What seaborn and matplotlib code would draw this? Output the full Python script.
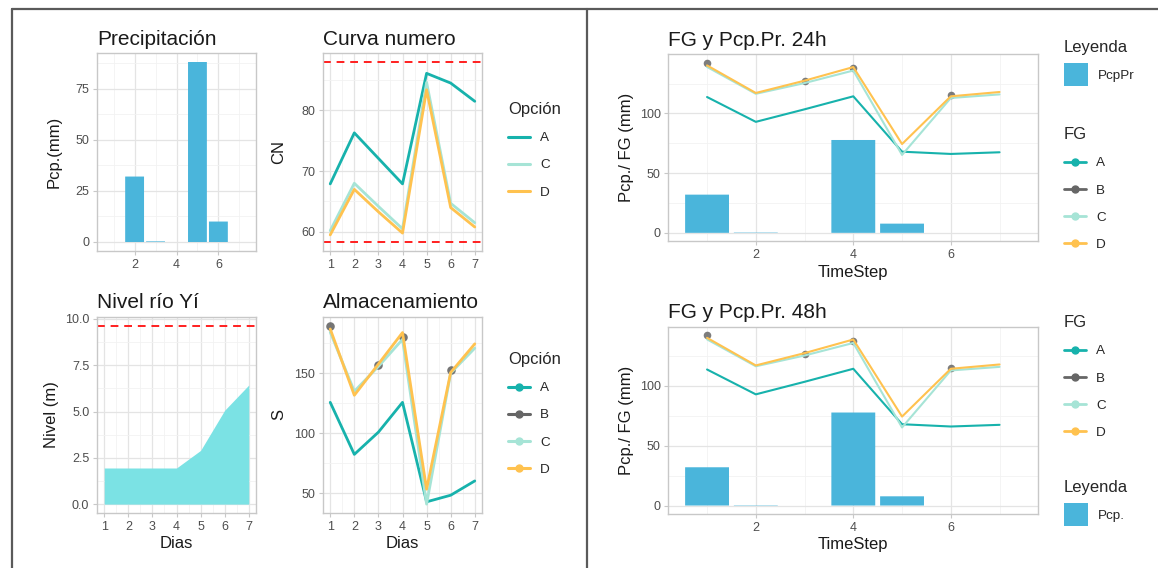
import numpy as np
import pandas as pd
import matplotlib
matplotlib.use("Agg")
import matplotlib.pyplot as plt
from matplotlib.lines import Line2D
from matplotlib.patches import Patch
from matplotlib.ticker import MultipleLocator, FormatStrFormatter
import seaborn as sns

# ---------------- data ----------------
dias = [1, 2, 3, 4, 5, 6, 7]
precip_mm = [0, 32, 0.3, 0, 88, 10, 0]

cn_A = [67.9, 76.3, 72.1, 67.9, 86.1, 84.5, 81.5]
cn_C = [60.2, 68.0, 64.2, 60.5, 84.6, 64.7, 61.5]
cn_D = [59.5, 67.0, 63.3, 59.8, 83.4, 64.0, 60.8]
cn_max = 88.0
cn_min = 58.3

nivel_m = [1.95, 1.95, 1.95, 1.95, 2.9, 5.07, 6.43]
nivel_alerta = 9.64

s_A = [125.6, 82.3, 100.8, 125.6, 42.8, 48.3, 60.2]
s_B = [189.5, np.nan, 156.3, 179.8, np.nan, 152.8, np.nan]
s_C = [184.0, 134.8, 155.5, 178.0, 40.9, 150.0, 170.7]
s_D = [186.7, 131.5, 157.5, 183.7, 53.3, 150.5, 174.3]

timestep = [1, 2, 3, 4, 5, 6, 7]
pcp_pr = [32, 0.3, 0, 77.8, 7.7, 0, 0]
fg_A = [113.8, 93.0, 103.5, 114.4, 68.0, 66.1, 67.5]
fg_B = [142.5, np.nan, 126.9, 138.0, np.nan, 115.3, np.nan]
fg_C = [139.0, 116.5, 125.5, 136.0, 65.3, 113.0, 116.0]
fg_D = [140.3, 117.2, 127.5, 138.9, 74.4, 114.4, 118.0]

opciones = ["A", "B", "C", "D"]
palette = {"A": "#17B2AC", "B": "#666666", "C": "#A6E4D6", "D": "#FFC24F"}
BAR = "#4AB5DB"
AREA = "#7BE2E4"
RED = "#FF1F1F"


def long_table(x, series, xname, yname):
    rows = []
    for name, vals in series.items():
        for xi, v in zip(x, vals):
            rows.append({xname: xi, yname: v, "Opcion": name})
    return pd.DataFrame(rows)


# ---------------- figure ----------------
sns.set_theme(style="white")
plt.rcParams["font.family"] = ["Liberation Sans", "DejaVu Sans"]

W, H = 1158, 568
fig = plt.figure(figsize=(W / 100, H / 100), dpi=100)
fig.patch.set_facecolor("white")


def px_axes(x0, y0, x1, y1):
    return fig.add_axes([x0 / W, 1 - y1 / H, (x1 - x0) / W, (y1 - y0) / H])


def style(ax, xmaj, ymaj, xlim, ylim, yfmt=None):
    ax.set_facecolor("white")
    for s in ax.spines.values():
        s.set_visible(True)
        s.set_color("#C8C8C8")
        s.set_linewidth(1.0)
    ax.set_xlim(*xlim)
    ax.set_ylim(*ylim)
    ax.xaxis.set_major_locator(MultipleLocator(xmaj))
    ax.xaxis.set_minor_locator(MultipleLocator(xmaj / 2))
    ax.yaxis.set_major_locator(MultipleLocator(ymaj))
    ax.yaxis.set_minor_locator(MultipleLocator(ymaj / 2))
    ax.xaxis.set_major_formatter(FormatStrFormatter("%d"))
    ax.yaxis.set_major_formatter(FormatStrFormatter(yfmt or "%d"))
    ax.grid(True, which="major", color="#E4E4E4", lw=0.9)
    ax.grid(True, which="minor", color="#F2F2F2", lw=0.6)
    ax.set_axisbelow(True)
    ax.tick_params(which="major", length=3, width=0.8, color="#C8C8C8",
                   labelsize=9, labelcolor="#4D4D4D", pad=2.5,
                   bottom=True, left=True)
    ax.tick_params(which="minor", length=0)
    ax.set_xlabel("")
    ax.set_ylabel("")


def set_title(ax, text):
    ax.set_title(text, loc="left", fontsize=15, pad=6, color="#1A1A1A")


def set_ylabel(ax, text, x):
    ax.set_ylabel(text, fontsize=12, color="#1A1A1A")
    ax.yaxis.set_label_coords(x, 0.5)


def set_xlabel(ax, text, y):
    ax.set_xlabel(text, fontsize=12, color="#1A1A1A")
    ax.xaxis.set_label_coords(0.5, y)


def add_legend(handles, labels, title, x, y, hl=1.63, hh=0.7, spacing=1.1):
    leg = fig.legend(handles, labels, title=title, loc="upper left",
                     bbox_to_anchor=(x / W, 1 - y / H), frameon=False,
                     fontsize=9.7, title_fontsize=12, borderpad=0,
                     borderaxespad=0, handlelength=hl, handleheight=hh,
                     handletextpad=0.75, labelspacing=spacing,
                     alignment="left")
    return leg


def bars(ax, x, y):
    sns.barplot(x=x, y=y, native_scale=True, color=BAR, saturation=1,
                width=0.9, errorbar=None, ax=ax, linewidth=0,
                edgecolor="none")
    for p in ax.patches:
        p.set_snap(False)


# ---- Precipitación ----
ax1 = px_axes(97, 53, 256, 251)
bars(ax1, dias, precip_mm)
style(ax1, 2, 25, (0.205, 7.795), (-4.4, 92.4))
set_title(ax1, "Precipitación")
set_ylabel(ax1, "Pcp.(mm)", -0.225)

# ---- Curva numero ----
ax2 = px_axes(323, 53, 482, 251)
cn_df = long_table(dias, {"A": cn_A, "C": cn_C, "D": cn_D}, "Dia", "CN")
ax2.axhline(cn_max, color=RED, lw=1.4, ls=(0, (4, 3)))
ax2.axhline(cn_min, color=RED, lw=1.4, ls=(0, (4, 3)))
sns.lineplot(data=cn_df, x="Dia", y="CN", hue="Opcion", palette=palette,
             lw=2.0, ax=ax2, legend=False)
style(ax2, 1, 10, (0.7, 7.3), (56.85, 89.45))
set_title(ax2, "Curva numero")
set_ylabel(ax2, "CN", -0.233)
add_legend([Line2D([], [], color=palette[k], lw=2.2) for k in ["A", "C", "D"]],
           ["A", "C", "D"], "Opción", 508, 102)

# ---- Nivel río Yí ----
ax3 = px_axes(97, 316.7, 256, 513)
ax3.fill_between(dias, nivel_m, color=AREA, lw=0)
ax3.axhline(nivel_alerta, color=RED, lw=1.4, ls=(0, (4, 3)))
style(ax3, 1, 2.5, (0.7, 7.3), (-0.48, 10.12), yfmt="%.1f")
set_title(ax3, "Nivel río Yí")
set_ylabel(ax3, "Nivel (m)", -0.24)
set_xlabel(ax3, "Dias", -0.115)

# ---- Almacenamiento ----
ax4 = px_axes(323, 316.7, 482, 513)
s_df = long_table(dias, {"A": s_A, "C": s_C, "D": s_D}, "Dia", "S")
sB_df = long_table(dias, {"B": s_B}, "Dia", "S").dropna()
sns.scatterplot(data=sB_df, x="Dia", y="S", color=palette["B"], s=38,
                alpha=0.9, linewidth=0, ax=ax4, legend=False, zorder=2)
sns.lineplot(data=s_df, x="Dia", y="S", hue="Opcion", palette=palette,
             lw=2.0, ax=ax4, legend=False, zorder=3)
style(ax4, 1, 50, (0.7, 7.3), (33.5, 196.9))
set_title(ax4, "Almacenamiento")
set_ylabel(ax4, "S", -0.233)
set_xlabel(ax4, "Dias", -0.115)
add_legend([Line2D([], [], color=palette[k], lw=2.2, marker="o", ms=5)
            for k in opciones], opciones, "Opción", 508, 352)


# ---- FG y Pcp.Pr. panels ----
def fg_panel(y0, y1, title, xlab_y):
    ax = px_axes(668.3, y0, 1038.3, y1)
    bars(ax, timestep, pcp_pr)
    fg_df = long_table(timestep, {"A": fg_A, "C": fg_C, "D": fg_D},
                       "TimeStep", "FG")
    fgB_df = long_table(timestep, {"B": fg_B}, "TimeStep", "FG").dropna()
    sns.scatterplot(data=fgB_df, x="TimeStep", y="FG", color=palette["B"],
                    s=30, alpha=0.85, linewidth=0, ax=ax, legend=False,
                    zorder=3)
    sns.lineplot(data=fg_df, x="TimeStep", y="FG", hue="Opcion",
                 palette=palette, lw=1.5, ax=ax, legend=False, zorder=4)
    style(ax, 2, 50, (0.205, 7.795), (-7.1, 149.6))
    set_title(ax, title)
    set_ylabel(ax, "Pcp./ FG (mm)", -0.092)
    set_xlabel(ax, "TimeStep", xlab_y)
    return ax


fg_handles = [Line2D([], [], color=palette[k], lw=2.0, marker="o", ms=5)
              for k in opciones]

ax5 = fg_panel(54.3, 241.3, "FG y Pcp.Pr. 24h", -0.125)
add_legend([Patch(facecolor=BAR, edgecolor="none")], ["PcpPr"], "Leyenda",
           1064, 40, hl=1.78, hh=2.2, spacing=0.6)
add_legend(fg_handles, opciones, "FG", 1064, 127)

ax6 = fg_panel(326.7, 514, "FG y Pcp.Pr. 48h", -0.122)
add_legend(fg_handles, opciones, "FG", 1064, 315)
add_legend([Patch(facecolor=BAR, edgecolor="none")], ["Pcp."], "Leyenda",
           1064, 480, hl=1.78, hh=2.2, spacing=0.6)

# ---------------- frame lines ----------------
frame_kw = dict(transform=fig.transFigure, color="#5A5A5A", lw=1.6)
fig.add_artist(Line2D([11.5 / W, 11.5 / W], [0, 1 - 8.5 / H], **frame_kw))
fig.add_artist(Line2D([11.5 / W, 1], [1 - 8.5 / H, 1 - 8.5 / H], **frame_kw))
fig.add_artist(Line2D([586.5 / W, 586.5 / W], [0, 1 - 8.5 / H], **frame_kw))

fig.savefig("out.png", dpi=100)
